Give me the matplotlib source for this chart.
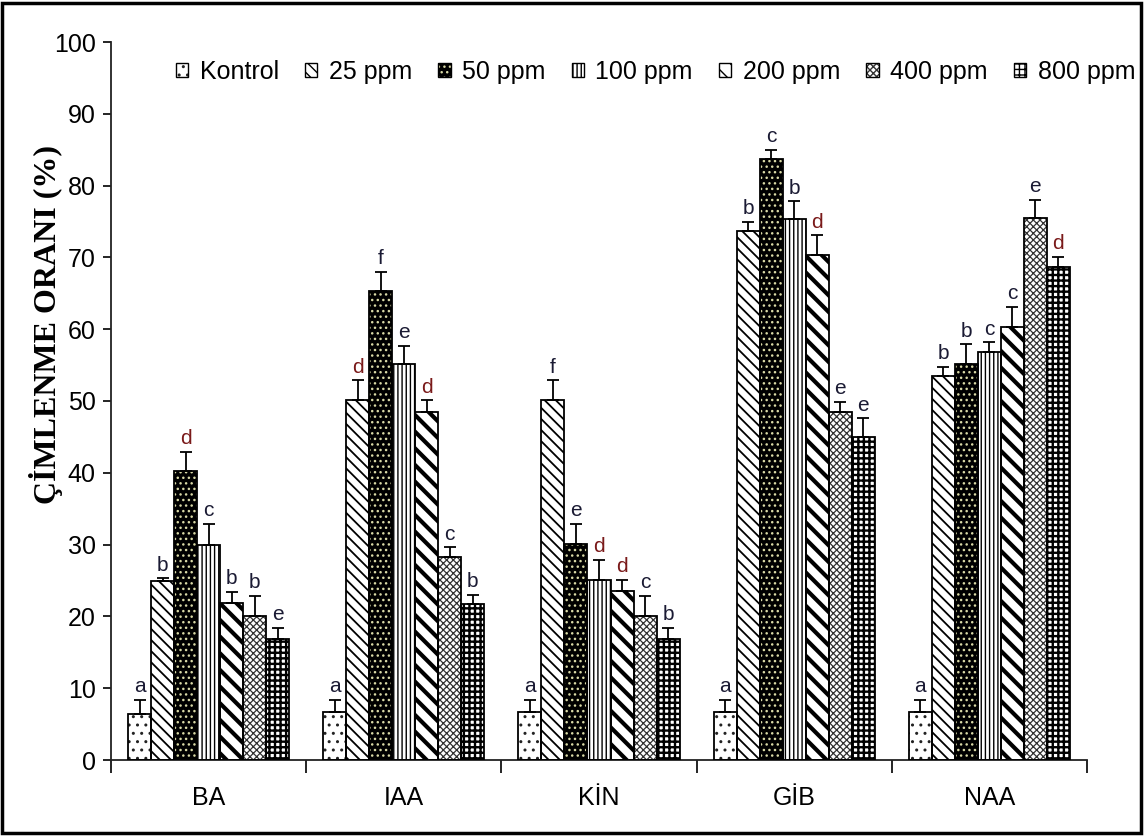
import matplotlib
matplotlib.use("Agg")
import matplotlib.pyplot as plt
from matplotlib.patches import Rectangle
from matplotlib.legend_handler import HandlerTuple
import numpy as np

categories = ["BA", "IAA", "KİN", "GİB", "NAA"]
series = ["Kontrol", "25 ppm", "50 ppm", "100 ppm", "200 ppm", "400 ppm", "800 ppm"]

kontrol = [6.4, 6.7, 6.7, 6.7, 6.7]
ppm25 = [25.0, 50.2, 50.2, 73.7, 53.5]
ppm50 = [40.2, 65.3, 30.1, 83.7, 55.2]
ppm100 = [29.9, 55.2, 25.1, 75.3, 56.8]
ppm200 = [21.8, 48.5, 23.5, 70.3, 60.3]
ppm400 = [20.1, 28.3, 20.1, 48.5, 75.5]
ppm800 = [16.8, 21.7, 16.8, 45.0, 68.6]

err_kontrol = [2.0, 1.7, 1.7, 1.7, 1.7]
err25 = [0.3, 2.7, 2.7, 1.3, 1.3]
err50 = [2.7, 2.7, 2.8, 1.3, 2.7]
err100 = [3.0, 2.5, 2.8, 2.5, 1.4]
err200 = [1.6, 1.6, 1.6, 2.8, 2.8]
err400 = [2.8, 1.3, 2.8, 1.4, 2.5]
err800 = [1.6, 1.3, 1.6, 2.6, 1.5]

letters_kontrol = ["a", "a", "a", "a", "a"]
letters25 = ["b", "d", "f", "b", "b"]
letters50 = ["d", "f", "e", "c", "b"]
letters100 = ["c", "e", "d", "b", "c"]
letters200 = ["b", "d", "d", "d", "c"]
letters400 = ["b", "c", "c", "e", "e"]
letters800 = ["e", "b", "b", "e", "d"]

values = [kontrol, ppm25, ppm50, ppm100, ppm200, ppm400, ppm800]
errors = [err_kontrol, err25, err50, err100, err200, err400, err800]
letters = [letters_kontrol, letters25, letters50, letters100, letters200, letters400, letters800]

# styles: (facecolor, hatch, hatchcolor, hatch linewidth)
styles = [
    ("white", "..", "#222222", 1.0),
    ("white", "\\\\\\", "black", 1.3),
    ("black", "...", "#d9d9a6", 1.0),
    ("white", "||||", "black", 1.0),
    ("white", "\\\\", "black", 3.0),
    ("white", "xxxxx", "#333333", 0.9),
    ("white", "+++", "black", 1.7),
]

plt.rcParams["font.family"] = ["Liberation Sans", "DejaVu Sans"]

fig = plt.figure(figsize=(11.44, 8.36), dpi=100)
ax = fig.add_axes([111 / 1144, 76 / 836, (1087 - 111) / 1144, (760 - 42) / 836])

x = np.arange(len(categories))
n = len(series)
group_w = 0.825
bw = group_w / n

handles = []
for i in range(n):
    fc, hatch, hc, hlw = styles[i]
    pos = x - group_w / 2 + bw * (i + 0.5)
    bars = ax.bar(pos, values[i], width=bw, facecolor=fc, edgecolor=hc,
                  hatch=hatch, linewidth=0, zorder=2)
    for p in bars.patches:
        if hasattr(p, "set_hatch_linewidth"):
            p.set_hatch_linewidth(hlw)
    ax.bar(pos, values[i], width=bw, facecolor="none", edgecolor="black",
           linewidth=1.3, zorder=3)
    ax.errorbar(pos, values[i], yerr=[np.zeros(len(categories)), errors[i]],
                fmt="none", ecolor="black", elinewidth=1.3, capsize=4,
                capthick=1.3, zorder=4)
    for j in range(len(categories)):
        lt = letters[i][j]
        col = "#7a1a1a" if lt == "d" else "#1a1a33"
        ax.text(pos[j], values[i][j] + errors[i][j] + 0.5, lt, ha="center",
                va="bottom", fontsize=15, color=col, zorder=5)
    h1 = Rectangle((0, 0), 1, 1, facecolor=fc, edgecolor=hc, hatch=hatch, linewidth=0)
    if hasattr(h1, "set_hatch_linewidth"):
        h1.set_hatch_linewidth(min(hlw, 1.5))
    h2 = Rectangle((0, 0), 1, 1, facecolor="none", edgecolor="black", linewidth=1.0)
    handles.append((h1, h2))

ax.set_xlim(-0.5, len(categories) - 0.5)
ax.set_ylim(0, 100)
ax.set_yticks(np.arange(0, 101, 10))
ax.tick_params(axis="y", labelsize=18, length=6, width=1.2, pad=5, direction="out")

ax.set_xticks(np.arange(-0.5, len(categories), 1.0))
ax.set_xticklabels([])
ax.tick_params(axis="x", which="major", length=9, width=1.2, direction="out")
ax.set_xticks(x, minor=True)
ax.set_xticklabels(categories, minor=True)
ax.tick_params(axis="x", which="minor", length=0, labelsize=18, pad=19)

for s in ["top", "right"]:
    ax.spines[s].set_visible(False)
for s in ["left", "bottom"]:
    ax.spines[s].set_linewidth(1.3)
    ax.spines[s].set_color("#222222")

fig.text(46 / 1144, 1 - 325 / 836, "ÇİMLENME ORANI (%)", rotation=90,
         ha="center", va="center", fontsize=23, fontweight="bold",
         family=["Liberation Serif", "DejaVu Serif"])

fig.legend(handles, series, loc="center right",
           bbox_to_anchor=(1135 / 1144, 1 - 72 / 836),
           ncol=n, frameon=False, fontsize=18, handlelength=0.5,
           handleheight=0.5, handletextpad=0.45, columnspacing=1.05,
           borderaxespad=0, borderpad=0,
           handler_map={tuple: HandlerTuple(ndivide=1, pad=0)})

fig.add_artist(Rectangle((0.002, 0.003), 0.995, 0.993, transform=fig.transFigure,
                         fill=False, edgecolor="black", linewidth=2.5))

fig.savefig("out.png", dpi=100)
